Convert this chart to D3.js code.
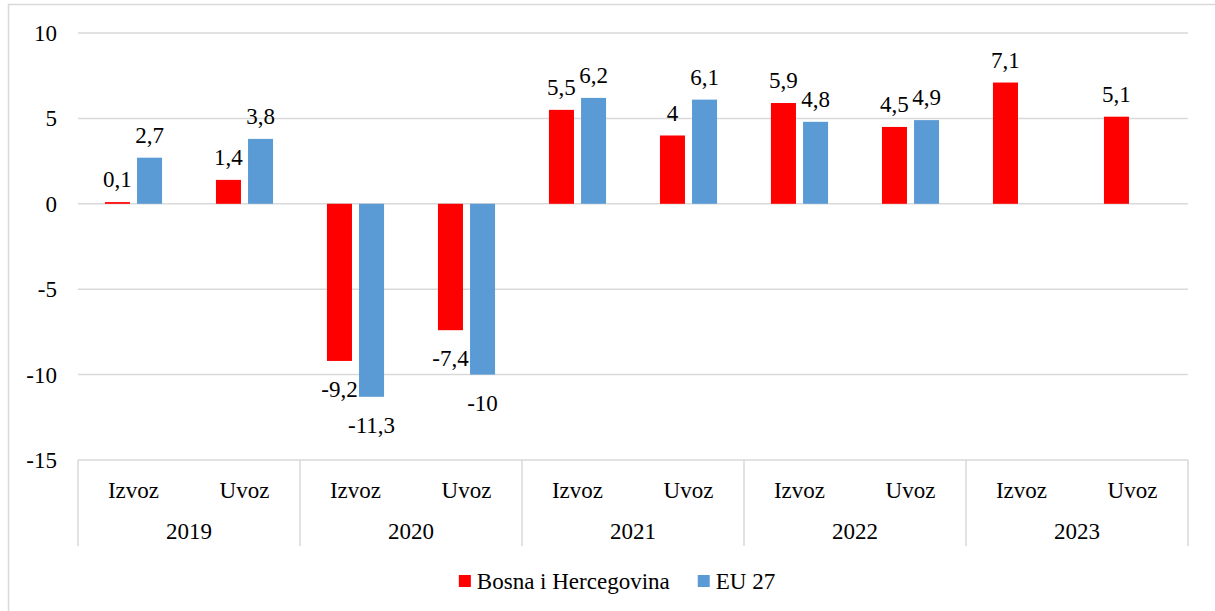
<!DOCTYPE html>
<html>
<head>
<meta charset="utf-8">
<script src="https://cdn.jsdelivr.net/npm/d3@7"></script>
<style>
    @font-face { font-family: 'ChartSerif'; src: local('Liberation Serif'), local('LiberationSerif'); }
    body { margin: 0; background: #fff; }
</style>
</head>
<body>
<svg width="1215" height="611"></svg>
<script>
// Data
var years = ['2019', '2020', '2021', '2022', '2023'];
var flows = ['Izvoz', 'Uvoz'];
var seriesNames = ['Bosna i Hercegovina', 'EU 27'];
var bihValues = [0.1, 1.4, -9.2, -7.4, 5.5, 4, 5.9, 4.5, 7.1, 5.1];
var euValues = [2.7, 3.8, -11.3, -10, 6.2, 6.1, 4.8, 4.9, null, null];
var yTicks = [-15, -10, -5, 0, 5, 10];
var colors = ['#ff0000', '#5b9bd5'];

var svg = d3.select('svg');
var fontSize = 23;
var gridColor = '#d9d9d9';

// every label: serif, like the original Times text
function styleText(sel) {
    sel.attr('style', "font-family: 'Liberation Serif', ChartSerif, serif; font-size: " + fontSize + "px;")
        .attr('fill', '#000');
}

// outer chart border (runs off the right / bottom edge)
svg.append('rect')
    .attr('x', 8.5).attr('y', 4.5)
    .attr('width', 1400).attr('height', 800)
    .attr('fill', 'none')
    .attr('stroke', gridColor)
    .attr('stroke-width', 1.5);

var plot = {l: 78, r: 1188, t: 33, b: 460};

// one category per year/flow pair
var categories = [];
years.forEach(function(y) {
    flows.forEach(function(f) {
        categories.push({year: y, flow: f, key: y + '-' + f});
    });
});
var rows = categories.map(function(c, i) {
    return {cat: c, values: [bihValues[i], euValues[i]]};
});

var x0 = d3.scaleBand()
    .domain(categories.map(function(c) { return c.key; }))
    .range([plot.l, plot.r])
    .padding(0);

var x1 = d3.scaleBand()
    .domain([0, 1])
    .range([0, x0.bandwidth()])
    .paddingInner(0.22)
    .paddingOuter(0.84);

var yScale = d3.scaleLinear()
    .domain([-15, 10])
    .range([plot.b, plot.t]);

// gridlines
svg.append('g')
    .selectAll('line')
    .data(yTicks)
    .enter()
    .append('line')
    .attr('x1', plot.l).attr('x2', plot.r)
    .attr('y1', function(d) { return yScale(d); })
    .attr('y2', function(d) { return yScale(d); })
    .attr('stroke', gridColor)
    .attr('stroke-width', 1.5);

// y labels
svg.append('g')
    .selectAll('text')
    .data(yTicks)
    .enter()
    .append('text')
    .attr('x', plot.l - 21)
    .attr('y', function(d) { return yScale(d); })
    .attr('dy', '0.35em')
    .attr('text-anchor', 'end')
    .call(styleText)
    .text(function(d) { return d; });

// bars
var groups = svg.selectAll('.cat')
    .data(rows)
    .enter()
    .append('g')
    .attr('class', 'cat')
    .attr('transform', function(d) { return 'translate(' + x0(d.cat.key) + ',0)'; });

var bars = groups.selectAll('.bar')
    .data(function(d) {
        return d.values.map(function(v, i) { return {v: v, s: i}; })
            .filter(function(e) { return e.v !== null; });
    })
    .enter();

bars.append('rect')
    .attr('class', 'bar')
    .attr('x', function(d) { return x1(d.s); })
    .attr('width', x1.bandwidth())
    .attr('y', function(d) { return yScale(Math.max(0, d.v)); })
    .attr('height', function(d) { return Math.abs(yScale(d.v) - yScale(0)); })
    .attr('fill', function(d) { return colors[d.s]; });

// data labels
bars.append('text')
    .attr('x', function(d) { return x1(d.s) + x1.bandwidth() / 2; })
    .attr('y', function(d) {
        return d.v >= 0 ? yScale(d.v) - 23 : yScale(d.v) + 28;
    })
    .attr('dy', '0.35em')
    .attr('text-anchor', 'middle')
    .call(styleText)
    .text(function(d) { return String(d.v).replace('.', ','); });

// category axis (two levels)
var catAxis = svg.append('g');
var dividerBottom = 546;

catAxis.selectAll('.flowLabel')
    .data(categories)
    .enter()
    .append('text')
    .attr('x', function(d) { return x0(d.key) + x0.bandwidth() / 2; })
    .attr('y', 490)
    .attr('dy', '0.35em')
    .attr('text-anchor', 'middle')
    .call(styleText)
    .text(function(d) { return d.flow; });

var yearStart = function(y) { return x0(y + '-' + flows[0]); };
var yearWidth = x0.bandwidth() * flows.length;

catAxis.selectAll('.yearLabel')
    .data(years)
    .enter()
    .append('text')
    .attr('x', function(d) { return yearStart(d) + yearWidth / 2; })
    .attr('y', 531)
    .attr('dy', '0.35em')
    .attr('text-anchor', 'middle')
    .call(styleText)
    .text(function(d) { return d; });

var dividers = years.map(yearStart).concat([plot.r]);
catAxis.selectAll('.divider')
    .data(dividers)
    .enter()
    .append('line')
    .attr('x1', function(d) { return d; })
    .attr('x2', function(d) { return d; })
    .attr('y1', plot.b)
    .attr('y2', dividerBottom)
    .attr('stroke', gridColor)
    .attr('stroke-width', 1.5);

// legend
var legend = svg.append('g');
var items = legend.selectAll('.item')
    .data(seriesNames)
    .enter()
    .append('g')
    .attr('class', 'item');
items.append('rect')
    .attr('width', 12).attr('height', 12)
    .attr('y', -6)
    .attr('fill', function(d, i) { return colors[i]; });
items.append('text')
    .attr('x', 18)
    .attr('dy', '0.35em')
    .call(styleText)
    .text(function(d) { return d; });

var offset = 0;
var widths = [];
items.each(function() {
    var w = 18 + d3.select(this).select('text').node().getComputedTextLength();
    widths.push(w);
});
var gap = 28;
var total = d3.sum(widths) + gap * (widths.length - 1);
var startX = 617 - total / 2;
items.attr('transform', function(d, i) {
    var tx = startX + offset;
    offset += widths[i] + gap;
    return 'translate(' + [tx, 581] + ')';
});
</script>
</body>
</html>
